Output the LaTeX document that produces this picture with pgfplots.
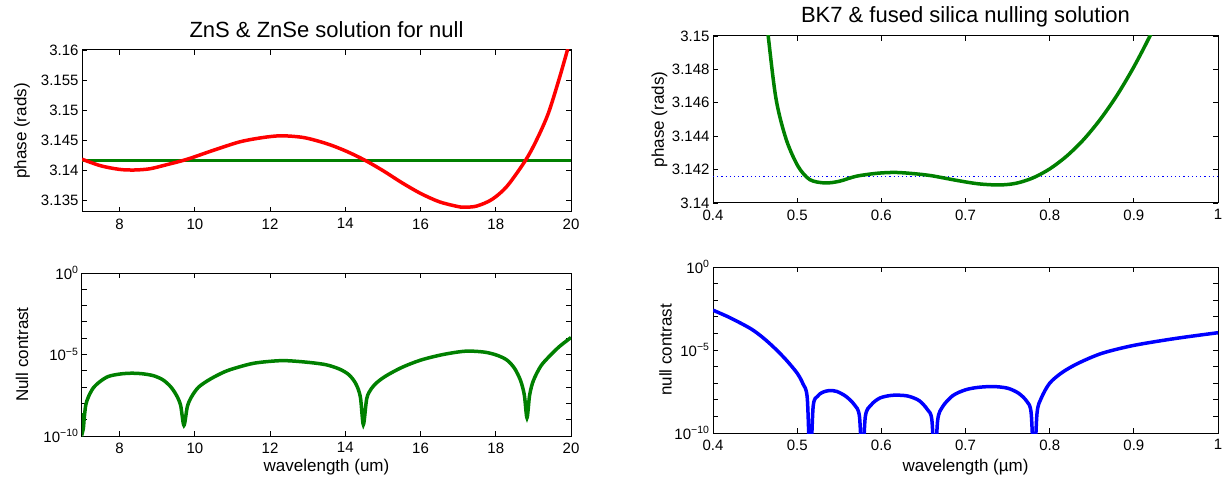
\documentclass[border=0pt]{standalone}
\usepackage{fontspec}
\setmainfont{Liberation Sans}
\usepackage{pgfplots}
\pgfplotsset{compat=1.18}
\definecolor{mgreen}{RGB}{0,128,0}

\pgfplotsset{
  mat/.style={
    scale only axis, anchor=south west,
    axis line style={line width=1pt},
    every tick/.style={black, line width=0.9pt},
    major tick length=5pt, tick align=inside,
    tick label style={font=\fontsize{15}{18}\selectfont},
    xticklabel style={yshift=-3pt},
    label style={font=\fontsize{17}{20}\selectfont},
    every axis title shift=0pt,
    title style={font=\fontsize{22}{26}\selectfont, anchor=center},
    ylabel style={anchor=center},
    xlabel style={anchor=center},
    minor tick num=0, yminorticks=false, xminorticks=false,
  },
  phasecurve/.style={line width=3.5pt, smooth},
  nullcurve/.style={line width=3.5pt, smooth},
}

\begin{document}
\begin{tikzpicture}
\useasboundingbox (0,0) rectangle (1225pt,477pt);

% top left: phase, ZnS & ZnSe
\begin{axis}[mat, at={(82pt,265pt)}, width=489pt, height=162pt,
  xmin=7, xmax=20, ymin=3.133, ymax=3.16,
  xtick={8,10,12,14,16,18,20}, xticklabels={8,10,12,14,16,18,20},
  ytick={3.135,3.14,3.145,3.15,3.155,3.16},
  yticklabels={3.135,3.14,3.145,3.15,3.155,3.16},
  ylabel={phase (rads)},
  ylabel style={at={(axis description cs:-0.1227,0.5)}},
  title={ZnS \& ZnSe solution for null},
  title style={at={(axis description cs:0.5,1.123)}}]
\addplot[mgreen, line width=3.5pt] coordinates {(7,3.14159) (20,3.14159)};
\addplot[red, phasecurve] coordinates {
(7.0,3.1418) (7.5,3.1407) (8.0,3.1401) (8.4,3.1400) (8.8,3.1402)
(9.2,3.1408) (9.8,3.1418) (10.5,3.1433) (11.2,3.1447) (11.8,3.1454)
(12.3,3.1457) (12.9,3.1454) (13.5,3.1444) (14.0,3.1432) (14.5,3.1417)
(15.0,3.1399) (15.5,3.1379) (16.0,3.1361) (16.5,3.1347) (17.0,3.1339)
(17.2,3.1338) (17.5,3.1340) (17.9,3.1351) (18.3,3.1373) (18.8,3.1417)
(19.1,3.1452) (19.4,3.1495) (19.7,3.1555) (19.95,3.1610)};
\end{axis}

% bottom left: null contrast, ZnS & ZnSe
\begin{axis}[mat, ymode=log, at={(82pt,41pt)}, width=489pt, height=163pt,
  xmin=7, xmax=20, ymin=1e-10, ymax=1,
  ytick={1e-10,1e-9,1e-8,1e-7,1e-6,1e-5,1e-4,1e-3,1e-2,1e-1,1},
  yticklabels={10\textsuperscript{−10},,,,,10\textsuperscript{−5},,,,,10\textsuperscript{0}},
  xtick={8,10,12,14,16,18,20}, xticklabels={8,10,12,14,16,18,20},
  xlabel={wavelength (um)}, ylabel={Null contrast},
  xlabel style={at={(axis description cs:0.5,-0.19)}},
  ylabel style={at={(axis description cs:-0.1227,0.5)}}]
\addplot[mgreen, nullcurve] coordinates {
(7.00,2.5e-9) (7.03,2.5e-10) (7.06,1.3e-9) (7.10,7.9e-9) (7.17,2.5e-8)
(7.30,8.9e-8) (7.48,2.2e-7) (7.70,4.5e-7) (8.00,6.3e-7) (8.30,7.1e-7)
(8.60,6.6e-7) (8.90,5.0e-7) (9.15,2.8e-7) (9.35,1.1e-7) (9.50,3.5e-8)
(9.62,7.9e-9) (9.71,4.5e-10) (9.80,6.3e-9) (9.91,2.5e-8) (10.10,1.0e-7)
(10.42,3.2e-7) (10.80,8.9e-7) (11.13,1.6e-6) (11.60,3.0e-6) (12.30,4.2e-6)
(12.90,3.5e-6) (13.47,2.4e-6) (13.85,1.26e-6) (14.10,5.6e-7) (14.28,1.6e-7)
(14.40,2.5e-8) (14.48,5.0e-10) (14.57,2.0e-8) (14.69,7.9e-8) (14.85,2.0e-7)
(15.09,5.0e-7) (15.50,1.6e-6) (16.00,4.5e-6) (16.60,1.0e-5) (17.20,1.6e-5)
(17.70,1.4e-5) (18.04,8.9e-6) (18.30,4.5e-6) (18.50,1.4e-6) (18.66,2.5e-7)
(18.76,3.2e-8) (18.83,1.3e-9) (18.90,3.2e-8) (19.00,2.5e-7) (19.20,2.0e-6)
(19.45,8.9e-6) (19.70,3.2e-5) (20.00,1.1e-4)};
\end{axis}

% top right: phase, BK7 & fused silica
\begin{axis}[mat, at={(713pt,274pt)}, width=505pt, height=167pt,
  xmin=0.4, xmax=1, ymin=3.14, ymax=3.15,
  xtick={0.4,0.5,0.6,0.7,0.8,0.9,1}, xticklabels={0.4,0.5,0.6,0.7,0.8,0.9,1},
  ytick={3.14,3.142,3.144,3.146,3.148,3.15},
  yticklabels={3.14,3.142,3.144,3.146,3.148,3.15},
  ylabel={phase (rads)},
  ylabel style={at={(axis description cs:-0.106,0.5)}},
  title={BK7 \& fused silica nulling solution},
  title style={at={(axis description cs:0.5,1.116)}}]
\addplot[blue, line width=1.1pt, dash pattern=on 1.2pt off 3pt] coordinates {(0.4,3.14159) (1,3.14159)};
\addplot[mgreen, phasecurve] coordinates {
(0.455,3.1550) (0.4656,3.1500) (0.475,3.1462) (0.487,3.1438) (0.501,3.1422)
(0.515,3.1414) (0.533,3.1412) (0.550,3.1413) (0.570,3.1416) (0.595,3.14178)
(0.617,3.14183) (0.640,3.14175) (0.660,3.14163) (0.690,3.14135) (0.715,3.14115)
(0.740,3.14108) (0.760,3.14118) (0.780,3.14150) (0.800,3.14204) (0.820,3.14280)
(0.840,3.14378) (0.860,3.14500) (0.880,3.14645) (0.900,3.14815) (0.920,3.15009)
(0.940,3.15230)};
\end{axis}

% bottom right: null contrast, BK7 & fused silica
\begin{axis}[mat, ymode=log, at={(713pt,44pt)}, width=505pt, height=166pt,
  xmin=0.4, xmax=1, ymin=1e-10, ymax=1,
  ytick={1e-10,1e-9,1e-8,1e-7,1e-6,1e-5,1e-4,1e-3,1e-2,1e-1,1},
  yticklabels={10\textsuperscript{−10},,,,,10\textsuperscript{−5},,,,,10\textsuperscript{0}},
  xtick={0.4,0.5,0.6,0.7,0.8,0.9,1}, xticklabels={0.4,0.5,0.6,0.7,0.8,0.9,1},
  xlabel={wavelength (µm)}, ylabel={null contrast},
  xlabel style={at={(axis description cs:0.5,-0.205)}},
  ylabel style={at={(axis description cs:-0.094,0.5)}}]
\addplot[blue, nullcurve] coordinates {
(0.400,2.5e-3) (0.420,8.9e-4) (0.445,1.9e-4) (0.460,5.2e-5) (0.4735,1.26e-5)
(0.487,2.5e-6) (0.500,4.0e-7) (0.507,8.9e-8) (0.512,1.26e-8) (0.5155,1e-12)
(0.519,4.0e-9) (0.524,1.6e-8) (0.530,2.8e-8) (0.538,3.6e-8) (0.547,3.2e-8)
(0.558,1.6e-8) (0.568,5.0e-9) (0.574,1.0e-9) (0.5775,1e-12) (0.581,1.0e-9)
(0.588,5.0e-9) (0.598,1.26e-8) (0.610,1.8e-8) (0.620,1.9e-8) (0.632,1.66e-8)
(0.645,8.9e-9) (0.655,2.5e-9) (0.660,6.3e-10) (0.6635,1e-12) (0.667,6.3e-10)
(0.673,4.0e-9) (0.685,1.8e-8) (0.700,4.0e-8) (0.715,5.6e-8) (0.733,6.3e-8)
(0.750,5.0e-8) (0.763,2.5e-8) (0.773,7.9e-9) (0.778,1.6e-9) (0.7815,1e-12)
(0.785,1.6e-9) (0.790,1.26e-8) (0.800,1.0e-7) (0.815,4.5e-7) (0.834,1.6e-6)
(0.862,6.3e-6) (0.900,1.9e-5) (0.950,5.0e-5) (1.000,1.1e-4)};
\end{axis}
\end{tikzpicture}
\end{document}
